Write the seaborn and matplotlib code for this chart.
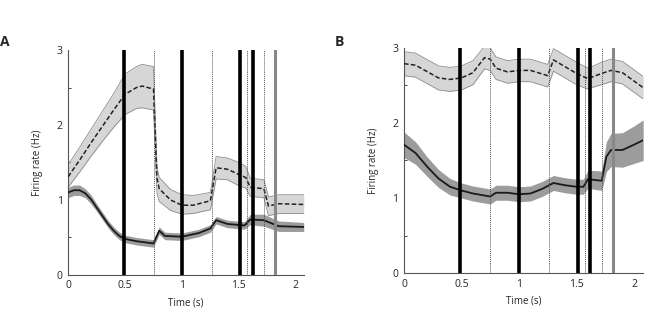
import numpy as np
import pandas as pd
import seaborn as sns
import matplotlib.pyplot as plt

sns.set_style("white")
plt.rcParams['font.family'] = ['Open Sans', 'DejaVu Sans']

# panel A - dashed (upper) curve
a_up_t = [0, 0.1, 0.2, 0.3, 0.4, 0.5, 0.6, 0.65, 0.75, 0.78, 0.8, 0.9, 1.0, 1.1, 1.25, 1.3, 1.4, 1.5, 1.56, 1.6, 1.72, 1.76, 1.85, 2.07]
a_up_m = [1.31, 1.53, 1.76, 1.98, 2.2, 2.41, 2.5, 2.52, 2.48, 1.3, 1.15, 1.0, 0.93, 0.93, 0.99, 1.43, 1.41, 1.34, 1.3, 1.17, 1.15, 0.92, 0.95, 0.94]
a_up_lo = [1.17, 1.37, 1.58, 1.78, 1.97, 2.14, 2.22, 2.23, 2.2, 1.1, 0.98, 0.86, 0.81, 0.82, 0.87, 1.28, 1.27, 1.19, 1.16, 1.05, 1.03, 0.79, 0.82, 0.82]
a_up_hi = [1.47, 1.7, 1.94, 2.18, 2.42, 2.68, 2.78, 2.81, 2.78, 1.45, 1.3, 1.14, 1.07, 1.06, 1.1, 1.58, 1.56, 1.5, 1.45, 1.29, 1.27, 1.04, 1.07, 1.07]

# panel A - solid (lower) curve
a_lo_t = [0, 0.05, 0.1, 0.15, 0.2, 0.25, 0.3, 0.35, 0.4, 0.45, 0.5, 0.6, 0.75, 0.8, 0.85, 1.0, 1.15, 1.25, 1.3, 1.4, 1.55, 1.6, 1.72, 1.85, 2.07]
a_lo_m = [1.1, 1.13, 1.13, 1.09, 1.01, 0.9, 0.79, 0.68, 0.59, 0.52, 0.48, 0.45, 0.42, 0.59, 0.52, 0.51, 0.56, 0.62, 0.73, 0.68, 0.66, 0.74, 0.73, 0.65, 0.64]
a_lo_e = [0.07, 0.07, 0.07, 0.06, 0.06, 0.05, 0.05, 0.05, 0.05, 0.05, 0.05, 0.05, 0.05, 0.05, 0.05, 0.05, 0.05, 0.05, 0.05, 0.05, 0.05, 0.07, 0.08, 0.07, 0.06]

# panel B - dashed (upper) curve
b_up_t = [0, 0.1, 0.3, 0.4, 0.5, 0.6, 0.7, 0.75, 0.8, 0.9, 1.0, 1.1, 1.25, 1.3, 1.4, 1.5, 1.6, 1.65, 1.72, 1.8, 1.9, 2.08]
b_up_m = [2.79, 2.77, 2.6, 2.58, 2.6, 2.67, 2.87, 2.85, 2.73, 2.68, 2.7, 2.7, 2.63, 2.84, 2.75, 2.66, 2.59, 2.62, 2.66, 2.7, 2.67, 2.47]
b_up_e = [0.16, 0.16, 0.16, 0.16, 0.16, 0.16, 0.15, 0.15, 0.15, 0.15, 0.15, 0.15, 0.15, 0.15, 0.15, 0.15, 0.14, 0.14, 0.15, 0.15, 0.15, 0.15]

# panel B - solid (lower) curve
b_lo_t = [0, 0.1, 0.2, 0.3, 0.4, 0.5, 0.6, 0.75, 0.8, 0.9, 1.0, 1.1, 1.2, 1.3, 1.4, 1.5, 1.56, 1.6, 1.72, 1.76, 1.8, 1.9, 2.0, 2.08]
b_lo_m = [1.71, 1.6, 1.42, 1.26, 1.15, 1.1, 1.06, 1.02, 1.07, 1.07, 1.05, 1.06, 1.12, 1.2, 1.17, 1.15, 1.15, 1.25, 1.23, 1.55, 1.64, 1.64, 1.71, 1.77]
b_lo_e = [0.17, 0.15, 0.13, 0.12, 0.11, 0.1, 0.1, 0.1, 0.1, 0.1, 0.1, 0.1, 0.1, 0.1, 0.1, 0.1, 0.1, 0.12, 0.13, 0.2, 0.22, 0.23, 0.25, 0.27]

events_thick = [0.49, 1.0, 1.51, 1.62]
events_dotted = [0.75, 1.26, 1.57, 1.72]
event_gray = 1.815

fig = plt.figure(figsize=(6.49, 3.11), dpi=100)
axA = fig.add_axes([0.105, 0.116, 0.363, 0.723])
axB = fig.add_axes([0.6225, 0.122, 0.3685, 0.724])


def draw_panel(ax, up_t, up_m, up_lo, up_hi, lo_t, lo_m, lo_e, xmax):
    ax.fill_between(up_t, up_lo, up_hi, color='#d6d6d6', lw=0, zorder=1)
    ax.plot(up_t, up_lo, color='#8c8c8c', lw=0.6, zorder=2)
    ax.plot(up_t, up_hi, color='#8c8c8c', lw=0.6, zorder=2)
    lo_m = np.array(lo_m)
    lo_e = np.array(lo_e)
    ax.fill_between(lo_t, lo_m - lo_e, lo_m + lo_e, color='#9c9c9c', lw=0, zorder=1)
    sns.lineplot(x=up_t, y=up_m, ax=ax, color='#222222', lw=1.1, ls=(0, (3, 1.5)), zorder=3)
    sns.lineplot(x=lo_t, y=lo_m, ax=ax, color='#1a1a1a', lw=1.3, zorder=3)
    for t in events_thick:
        ax.axvline(t, color='black', lw=2.6, zorder=4)
    for t in events_dotted:
        ax.axvline(t, color='#555555', lw=0.7, ls=(0, (1, 1)), zorder=4)
    ax.axvline(event_gray, color='#888888', lw=2.2, zorder=4)
    ax.set_xlim(0, xmax)
    ax.set_ylim(0, 3)
    ax.set_xticks([0, 0.5, 1, 1.5, 2])
    ax.set_xticklabels(['0', '0.5', '1', '1.5', '2'])
    ax.set_yticks([0, 1, 2, 3])
    ax.set_yticks([0.5, 1.5, 2.5], minor=True)
    ax.tick_params(direction='in', length=2.5, width=0.6, labelsize=7.5, pad=4)
    ax.tick_params(which='minor', direction='in', length=2, width=0.6, left=True)
    ax.set_xlabel('Time (s)', fontsize=7, labelpad=4)
    ax.set_ylabel('Firing rate (Hz)', fontsize=7, labelpad=10)
    sns.despine(ax=ax)
    for s in ['left', 'bottom']:
        ax.spines[s].set_color('#555555')
        ax.spines[s].set_linewidth(0.8)


draw_panel(axA, a_up_t, a_up_m, a_up_lo, a_up_hi, a_lo_t, a_lo_m, a_lo_e, 2.07)
b_up_m_arr = np.array(b_up_m)
b_up_e_arr = np.array(b_up_e)
draw_panel(axB, b_up_t, b_up_m, b_up_m_arr - b_up_e_arr, b_up_m_arr + b_up_e_arr,
           b_lo_t, b_lo_m, b_lo_e, 2.08)

fig.text(0.0, 0.865, 'A', fontsize=10, fontweight='bold', ha='left', va='center')
fig.text(0.516, 0.865, 'B', fontsize=10, fontweight='bold', ha='left', va='center')

fig.savefig('out.png', dpi=100)
